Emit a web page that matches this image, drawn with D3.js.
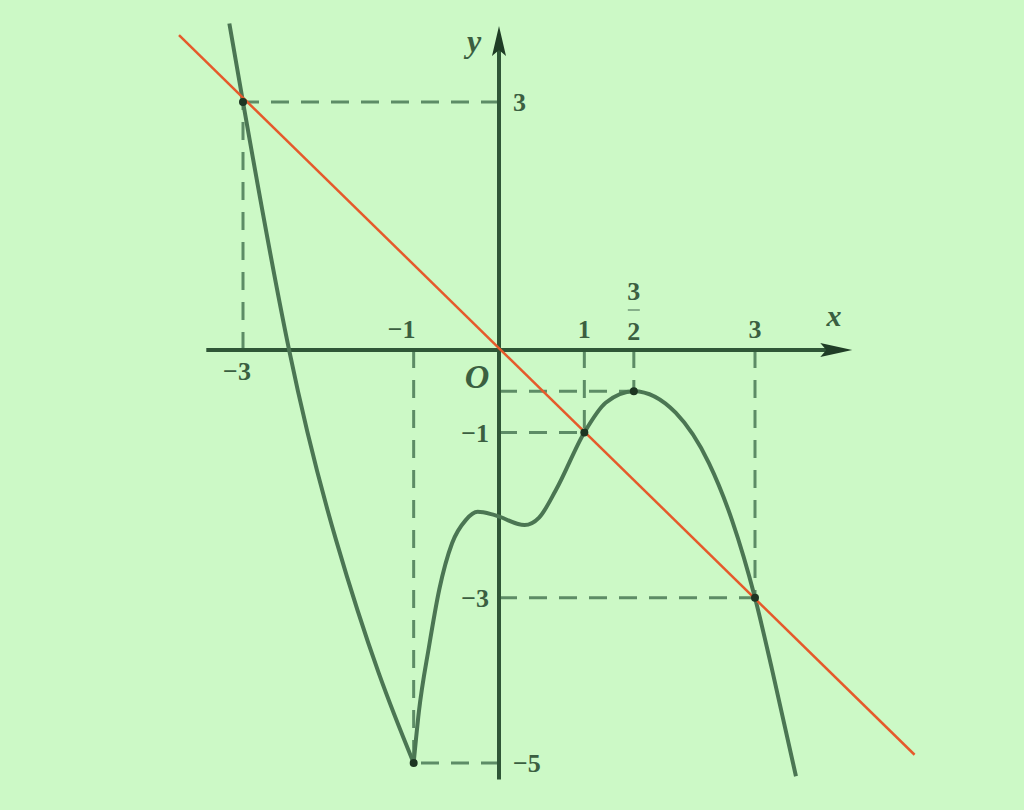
<!DOCTYPE html>
<html><head><meta charset="utf-8">
<script src="https://cdn.jsdelivr.net/npm/d3@7"></script>
<style>
html,body{margin:0;padding:0;background:#ccf9c6;}
svg{display:block;}
text{font-family:"Liberation Serif","DejaVu Serif",serif;font-weight:bold;fill:#3b5f41;}
</style></head>
<body>
<script>
// Curve: left branch (down to the cusp at x=-1) and right branch
const leftX  = [-3.16, -3, -2.46, -1.91, -1.41, -1];
const leftY  = [3.95, 3, 0, -2.30, -3.91, -5];
const rightX = [-1, -0.94, -0.82, -0.70, -0.55, -0.39, -0.25, -0.05, 0.3, 0.47, 0.67, 1, 1.25, 1.58, 2.07, 2.46, 2.73, 3, 3.2, 3.48];
const rightY = [-5, -4.39, -3.59, -2.90, -2.34, -2.06, -1.96, -2.0, -2.12, -2.03, -1.69, -1, -0.64, -0.5, -0.76, -1.37, -2.06, -3, -3.87, -5.16];
// Red line y = -x
const lineX = [-3.75, 4.87];
const lineY = [3.81, -4.9];
// Marked points
const ptX = [-3, -1, 1, 1.58, 3];
const ptY = [3, -5, -1, -0.5, -3];
// Tick labels
const xTickVals = [-3, -1, 1, 3];
const xTickLabels = ["−3", "−1", "1", "3"];
const fracVal = 1.58;
const fracLabel = ["3", "2"];
const yTickVals = [3, -1, -3, -5];
const yTickLabels = ["3", "−1", "−3", "−5"];

const W = 1024, H = 810;
const svg = d3.select("body").append("svg").attr("width", W).attr("height", H);
svg.append("rect").attr("width", W).attr("height", H).attr("fill", "#ccf9c6");

const x = d3.scaleLinear().domain([-3, 3]).range([243, 755]);
const y = d3.scaleLinear().domain([3, -5]).range([102, 763]);

const axisCol = "#2f5637", curveCol = "#4b7653", dashCol = "#5d8c66";

// dashed guides
const guides = [];
ptX.forEach((px, i) => {
  const py = ptY[i];
  guides.push([[px, 0], [px, py]]);
  guides.push([[0, py], [px, py]]);
});
svg.append("g").selectAll("line").data(guides).join("line")
  .attr("x1", d => x(d[0][0])).attr("y1", d => y(d[0][1]))
  .attr("x2", d => x(d[1][0])).attr("y2", d => y(d[1][1]))
  .attr("stroke", dashCol).attr("stroke-width", 3).attr("stroke-dasharray", "18,12");

// axes
const xMin = -3.43, xMax = 4.14, yMin = -5.2, yMax = 3.92;
svg.append("line").attr("x1", x(xMin)).attr("x2", x(xMax) - 20).attr("y1", y(0)).attr("y2", y(0))
  .attr("stroke", axisCol).attr("stroke-width", 4);
svg.append("line").attr("x1", x(0)).attr("x2", x(0)).attr("y1", y(yMin)).attr("y2", y(yMax) + 20)
  .attr("stroke", axisCol).attr("stroke-width", 4);
// arrowheads
const tx = x(xMax), ty = y(0);
svg.append("path").attr("d", `M${tx},${ty} L${tx-32},${ty-7} L${tx-26},${ty} L${tx-32},${ty+7} Z`).attr("fill", "#1f3d26");
const ux = x(0), uy = y(yMax);
svg.append("path").attr("d", `M${ux},${uy} L${ux-7},${uy+30} L${ux},${uy+24} L${ux+7},${uy+30} Z`).attr("fill", "#1f3d26");

// curve
const lineL = d3.line().x(d => x(d[0])).y(d => y(d[1])).curve(d3.curveNatural);
const lineR = d3.line().x(d => x(d[0])).y(d => y(d[1])).curve(d3.curveMonotoneX);
const leftPts = leftX.map((v, i) => [v, leftY[i]]);
const rightPts = rightX.map((v, i) => [v, rightY[i]]);
svg.append("path").attr("d", lineL(leftPts)).attr("fill", "none")
  .attr("stroke", curveCol).attr("stroke-width", 4).attr("stroke-linejoin", "round");
svg.append("path").attr("d", lineR(rightPts)).attr("fill", "none")
  .attr("stroke", curveCol).attr("stroke-width", 4).attr("stroke-linejoin", "round");

// red line
svg.append("line").attr("x1", x(lineX[0])).attr("y1", y(lineY[0]))
  .attr("x2", x(lineX[1])).attr("y2", y(lineY[1]))
  .attr("stroke", "#e55a2b").attr("stroke-width", 2.5);

// points
svg.append("g").selectAll("circle").data(ptX).join("circle")
  .attr("cx", d => x(d)).attr("cy", (d, i) => y(ptY[i])).attr("r", 4).attr("fill", "#1d3522");

// x tick labels
const lab = svg.append("g").attr("font-size", 26);
xTickVals.forEach((v, i) => {
  const below = v === -3;
  lab.append("text").attr("x", x(v) + (v < 0 ? (below ? -6 : -12) : 0)).attr("y", below ? y(0) + 30 : y(0) - 12)
    .attr("text-anchor", "middle").text(xTickLabels[i]);
});
// 3/2 fraction
const fx = x(fracVal);
lab.append("text").attr("x", fx).attr("y", 300).attr("text-anchor", "middle").text(fracLabel[0]);
lab.append("line").attr("x1", fx - 6).attr("x2", fx + 6).attr("y1", 310).attr("y2", 310)
  .attr("stroke", "#6f9676").attr("stroke-width", 1.5);
lab.append("text").attr("x", fx).attr("y", 340).attr("text-anchor", "middle").text(fracLabel[1]);

// y tick labels
yTickVals.forEach((v, i) => {
  const right = v === 3 || v === -5;
  lab.append("text").attr("x", right ? x(0) + 14 : x(0) - 10).attr("y", y(v) + 9)
    .attr("text-anchor", right ? "start" : "end").text(yTickLabels[i]);
});

// axis names and origin
svg.append("text").attr("x", 834).attr("y", 326).attr("font-size", 30).attr("font-style", "italic")
  .attr("text-anchor", "middle").text("x");
svg.append("text").attr("x", 474).attr("y", 52).attr("font-size", 32).attr("font-style", "italic")
  .attr("text-anchor", "middle").text("y");
svg.append("text").attr("x", 477).attr("y", 388).attr("font-size", 34).attr("font-style", "italic")
  .attr("text-anchor", "middle").text("O");
</script>
</body></html>
